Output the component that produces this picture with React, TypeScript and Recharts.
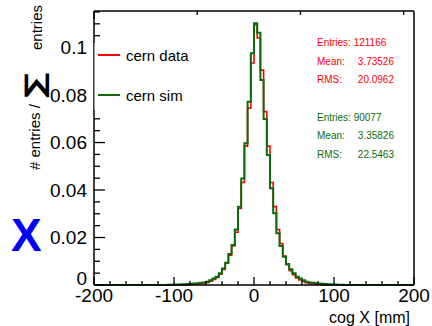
import { Legend, Line, LineChart, XAxis, YAxis } from "recharts";

// 4 mm bins, left edges; outside [-120, 120] both histograms are empty
const binEdges = [
  -120, -116, -112, -108, -104, -100, -96, -92, -88, -84, -80, -76, -72, -68, -64,
  -60, -56, -52, -48, -44, -40, -36, -32, -28, -24, -20, -16, -12, -8, -4,
  0, 4, 8, 12, 16, 20, 24, 28, 32, 36, 40, 44, 48, 52, 56,
  60, 64, 68, 72, 76, 80, 84, 88, 92, 96, 100, 104, 108, 112, 116, 120,
];

// fraction of entries per bin, "cern data"
const dataFrac = [
  0, 0, 0, 0, 0, 0, 0, 0, 0, 0.0001, 0.0002, 0.0003, 0.0004, 0.0005, 0.0008,
  0.0011, 0.0016, 0.0023, 0.0032, 0.0045, 0.0066, 0.0092, 0.0125, 0.0164, 0.0222,
  0.0322, 0.0432, 0.0585, 0.0745, 0.0935,
  0.1095, 0.104, 0.0905, 0.073, 0.0585, 0.0432, 0.033, 0.0234, 0.0175, 0.0122,
  0.0086, 0.006, 0.0043, 0.003, 0.0021, 0.0015, 0.001, 0.0007, 0.0005, 0.0003,
  0.0002, 0.0001, 0, 0, 0, 0, 0, 0, 0, 0,
];

// fraction of entries per bin, "cern sim"
const simFrac = [
  0.00003, 0.00005, 0.00005, 0.0001, 0.0001, 0.0002, 0.0002, 0.0003, 0.0003, 0.0004,
  0.0005, 0.0006, 0.0007, 0.0009, 0.0011, 0.0014, 0.002, 0.0027, 0.0035, 0.0049,
  0.007, 0.0094, 0.0131, 0.0168, 0.0234, 0.033, 0.0449, 0.0597, 0.0772, 0.0976,
  0.1102, 0.1062, 0.0863, 0.0699, 0.0547, 0.0407, 0.0302, 0.0218, 0.0164, 0.0119,
  0.0088, 0.0066, 0.0049, 0.0035, 0.0027, 0.002, 0.0014, 0.0011, 0.0009, 0.0007,
  0.0006, 0.0005, 0.0004, 0.0003, 0.0002, 0.0002, 0.0001, 0.0001, 0.00005, 0.00003,
];

const xTicks = [
  -200, -180, -160, -140, -120, -100, -80, -60, -40, -20, 0,
  20, 40, 60, 80, 100, 120, 140, 160, 180, 200,
];
const yTicks = [
  0, 0.005, 0.01, 0.015, 0.02, 0.025, 0.03, 0.035, 0.04, 0.045, 0.05, 0.055,
  0.06, 0.065, 0.07, 0.075, 0.08, 0.085, 0.09, 0.095, 0.1, 0.105, 0.11, 0.115,
];

const dataStats = ["Entries: 121166", "3.73526", "20.0962"];
const simStats = ["Entries: 90077", "3.35826", "22.5463"];

const RED = "#ff0000";
const GREEN = "#0b6b0b";
const FONT = "'Liberation Sans', Arial, Helvetica, sans-serif";

const rows = [
  { x: -200, data: 0, sim: 0 },
  ...binEdges.map((x, i) => ({
    x,
    data: i < dataFrac.length ? dataFrac[i] : 0,
    sim: i < simFrac.length ? simFrac[i] : 0,
  })),
  { x: 200, data: 0, sim: 0 },
];

const isMajorX = (v: number) => v % 100 === 0;
const isMajorY = (v: number) => Math.abs(v / 0.02 - Math.round(v / 0.02)) < 1e-6;

function BottomTick({ x, y, payload }: any) {
  const v = payload.value;
  const major = isMajorX(v);
  return (
    <g>
      <line x1={x} x2={x} y1={y} y2={y - (major ? 8 : 4)} stroke="#000" strokeWidth={1.3} />
      {major && (
        <text x={x} y={y + 17} textAnchor="middle" fontSize={19} fill="#000">
          {v}
        </text>
      )}
    </g>
  );
}

function TopTick({ x, y, payload }: any) {
  const major = isMajorX(payload.value);
  return <line x1={x} x2={x} y1={y} y2={y + (major ? 8 : 4)} stroke="#000" strokeWidth={1.3} />;
}

function LeftTick({ x, y, payload }: any) {
  const v = payload.value;
  const major = isMajorY(v);
  return (
    <g>
      <line x1={x} x2={x + (major ? 11 : 6)} y1={y} y2={y} stroke="#000" strokeWidth={1.3} />
      {major && (
        <text x={x - 7} y={y + (v === 0 ? 0 : 6.7)} textAnchor="end" fontSize={19} fill="#000">
          {String(Number(v.toFixed(2)))}
        </text>
      )}
    </g>
  );
}

function RightTick({ x, y, payload }: any) {
  const major = isMajorY(payload.value);
  return <line x1={x} x2={x - (major ? 11 : 6)} y1={y} y2={y} stroke="#000" strokeWidth={1.3} />;
}

function LegendBox({ payload = [] }: any) {
  return (
    <div
      style={{
        width: 110,
        height: 67,
        background: "#fff",
        borderLeft: "1px solid #9a9a9a",
        position: "relative",
        fontFamily: FONT,
      }}
    >
      {payload.map((p: any, i: number) => (
        <div
          key={p.value}
          style={{
            position: "absolute",
            left: 3,
            top: 2 + i * 40,
            height: 20,
            display: "flex",
            alignItems: "center",
          }}
        >
          <span style={{ display: "inline-block", width: 22, borderTop: `2px solid ${p.color}` }} />
          <span style={{ marginLeft: 6, fontSize: 15, color: "#000", whiteSpace: "nowrap" }}>
            {p.value}
          </span>
        </div>
      ))}
    </div>
  );
}

const axisLine = { stroke: "#000", strokeWidth: 1.5 };

export default function App() {
  return (
    <div
      style={{
        position: "absolute",
        left: 0,
        top: 0,
        width: 432,
        height: 326,
        background: "#fff",
        fontFamily: FONT,
      }}
    >
      <LineChart width={432} height={326} data={rows} margin={{ top: 0, right: 0, bottom: 0, left: 0 }}>
        <XAxis
          dataKey="x"
          type="number"
          domain={[-200, 200]}
          ticks={xTicks}
          interval={0}
          height={41}
          tickSize={0}
          tickMargin={0}
          tickLine={false}
          axisLine={axisLine}
          tick={(props: any) => <BottomTick {...props} />}
        />
        <XAxis
          xAxisId="top"
          orientation="top"
          type="number"
          domain={[-200, 200]}
          ticks={xTicks}
          interval={0}
          height={11}
          tickSize={0}
          tickMargin={0}
          tickLine={false}
          axisLine={axisLine}
          tick={(props: any) => <TopTick {...props} />}
        />
        <YAxis
          type="number"
          domain={[0, 0.1154]}
          ticks={yTicks}
          interval={0}
          width={94}
          tickSize={0}
          tickMargin={0}
          tickLine={false}
          axisLine={axisLine}
          tick={(props: any) => <LeftTick {...props} />}
        />
        <YAxis
          yAxisId="right"
          orientation="right"
          type="number"
          domain={[0, 0.1154]}
          ticks={yTicks}
          interval={0}
          width={18}
          tickSize={0}
          tickMargin={0}
          tickLine={false}
          axisLine={axisLine}
          tick={(props: any) => <RightTick {...props} />}
        />
        <Legend
          layout="vertical"
          align="center"
          verticalAlign="middle"
          wrapperStyle={{ position: "absolute", left: 94, top: 43, width: 110, height: 67 }}
          content={(props: any) => <LegendBox {...props} />}
        />
        <Line
          name="cern data"
          type="stepAfter"
          dataKey="data"
          stroke={RED}
          strokeWidth={1.6}
          dot={false}
          activeDot={false}
          isAnimationActive={false}
        />
        <Line
          name="cern sim"
          type="stepAfter"
          dataKey="sim"
          stroke={GREEN}
          strokeWidth={2}
          dot={false}
          activeDot={false}
          isAnimationActive={false}
        />
      </LineChart>

      <svg
        width={432}
        height={326}
        style={{ position: "absolute", left: 0, top: 0, pointerEvents: "none", fontFamily: FONT }}
      >
        {/* y axis title */}
        <text transform="translate(40,170) rotate(-90)" fontSize={15} fill="#000">
          # entries /
        </text>
        <text
          transform="translate(44,98) rotate(-90) scale(1.3,1)"
          fontSize={27}
          fontWeight="bold"
          fill="#000"
          fontFamily="'DejaVu Sans', sans-serif"
        >
          ∑
        </text>
        <text transform="translate(42,50) rotate(-90)" fontSize={15} fill="#000">
          entries
        </text>

        <text x={11} y={251} fontSize={46} fontWeight="bold" fill="#0000ff">
          X
        </text>

        <text x={410} y={323} textAnchor="end" fontSize={16} fill="#000">
          cog X [mm]
        </text>

        {/* statistics boxes */}
        <g fontSize={10} fill={RED}>
          <text x={317} y={45.5}>{dataStats[0]}</text>
          <text x={317} y={64.5}>Mean:</text>
          <text x={394} y={64.5} textAnchor="end">{dataStats[1]}</text>
          <text x={317} y={83}>RMS:</text>
          <text x={394} y={83} textAnchor="end">{dataStats[2]}</text>
        </g>
        <g fontSize={10} fill={GREEN}>
          <text x={317} y={120.5}>{simStats[0]}</text>
          <text x={317} y={139}>Mean:</text>
          <text x={394} y={139} textAnchor="end">{simStats[1]}</text>
          <text x={317} y={157.5}>RMS:</text>
          <text x={394} y={157.5} textAnchor="end">{simStats[2]}</text>
        </g>
      </svg>
    </div>
  );
}
